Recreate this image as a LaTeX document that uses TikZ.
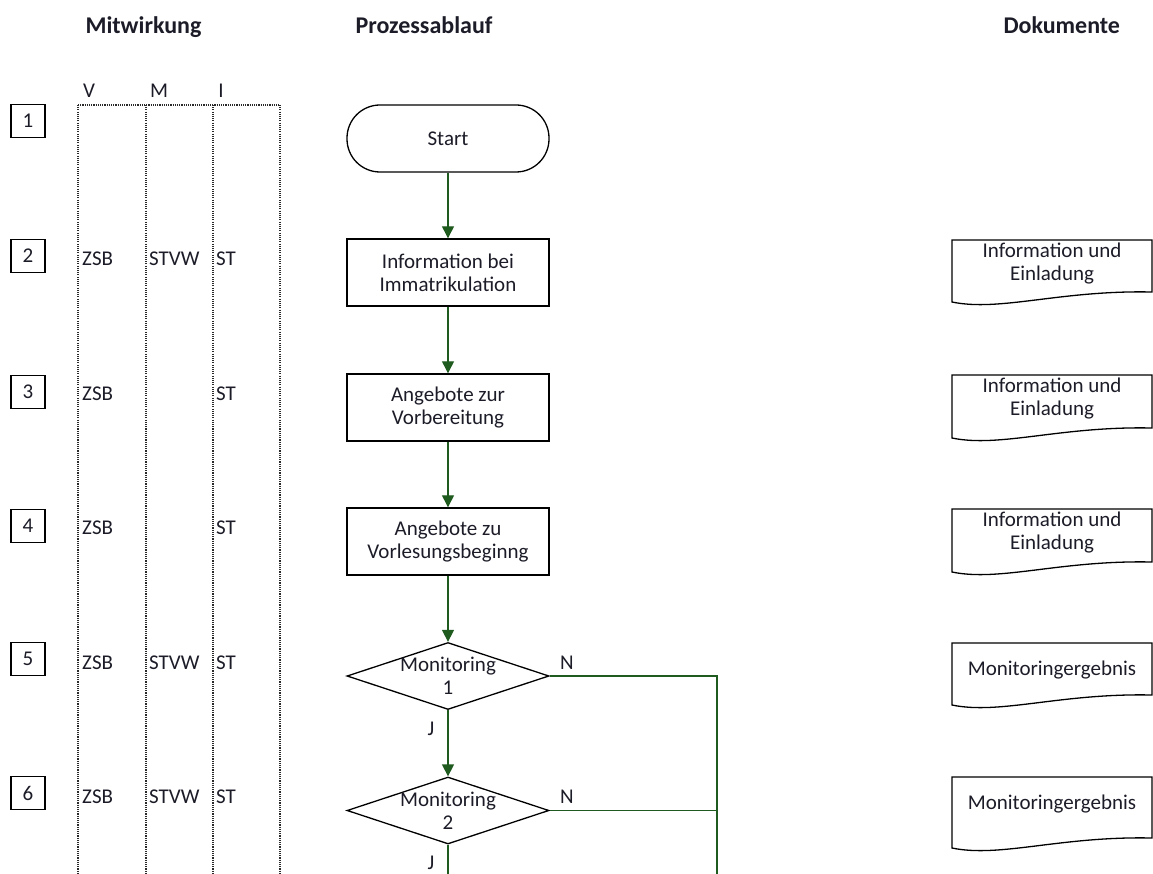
\documentclass[tikz,border=0pt]{standalone}
\usepackage{fontspec}
\setmainfont{Carlito}
\usetikzlibrary{arrows.meta,shapes.geometric}
\definecolor{flowgreen}{HTML}{1F5A1F}
\definecolor{inkdark}{HTML}{1C1C28}
\definecolor{dotgray}{HTML}{2A2A2A}

% document symbol: name, top edge, height, text offset, text
\newcommand{\docsymbol}[5]{%
  \draw[docline] (952,#2) -- (1152,#2) -- ({1152},{#2+#3-10})
    .. controls ({1060},{#2+#3-12}) and ({1000},{#2+#3+10}) .. ({952},{#2+#3}) -- cycle;
  \node[doctext] (#1) at ({1052},{#2+#4}) {#5};
}

\begin{document}
\begin{tikzpicture}[x=1pt,y=-1pt,
  every node/.style={font=\fontsize{21}{23}\selectfont, text=inkdark},
  head/.style={font=\fontsize{24}{28}\selectfont\bfseries, anchor=base west},
  collabel/.style={anchor=base},
  role/.style={anchor=west, inner sep=0},
  numbox/.style={draw=black, line width=1.5pt, minimum width=34, minimum height=33, inner sep=0},
  terminal/.style={draw=black, line width=1.3pt, minimum width=202, minimum height=67,
    rounded corners=33pt, inner sep=0},
  process/.style={draw=black, line width=1.4pt, minimum width=202, minimum height=67,
    inner sep=0, align=center},
  decision/.style={draw=black, line width=1.3pt, shape=diamond, minimum width=202,
    minimum height=67, inner sep=0},
  dectext/.style={align=center, inner sep=0},
  docline/.style={draw=black, line width=1.3pt},
  doctext/.style={align=center, inner sep=0},
  flow/.style={draw=flowgreen, line width=1.3pt, -{Triangle[length=12pt,width=12pt]}},
  branch/.style={draw=flowgreen, line width=1.3pt},
  branchlabel/.style={inner sep=0},
  grid/.style={draw=dotgray, line width=1.3pt, dash pattern=on 1.1pt off 1.1pt}
]
\useasboundingbox (0,0) rectangle (1153,874);

% column headings
\node[head] (hMit) at (82,34) {Mitwirkung};
\node[head] (hPro) at (352,34) {Prozessablauf};
\node[head] (hDok) at (1000,34) {Dokumente};

% participation table
\node[collabel] (cV) at (89,98) {V};
\node[collabel] (cM) at (159,98) {M};
\node[collabel] (cI) at (221,98) {I};
\draw[grid] (78,105) -- (280,105);
\foreach \gx in {78,146,213,280}{
  \draw[grid] (\gx,105) -- (\gx,874);
}

% step numbers
\node[numbox] (n1) at (28,121) {1};
\node[numbox] (n2) at (28,256) {2};
\node[numbox] (n3) at (28,392) {3};
\node[numbox] (n4) at (28,526) {4};
\node[numbox] (n5) at (28,659) {5};
\node[numbox] (n6) at (28,793) {6};

% roles per step
\node[role] (v2) at (82,259) {ZSB};
\node[role] (m2) at (149,259) {STVW};
\node[role] (i2) at (216,259) {ST};
\node[role] (v3) at (82,394) {ZSB};
\node[role] (i3) at (216,394) {ST};
\node[role] (v4) at (82,528) {ZSB};
\node[role] (i4) at (216,528) {ST};
\node[role] (v5) at (82,663) {ZSB};
\node[role] (m5) at (149,663) {STVW};
\node[role] (i5) at (216,663) {ST};
\node[role] (v6) at (82,797) {ZSB};
\node[role] (m6) at (149,797) {STVW};
\node[role] (i6) at (216,797) {ST};

% process flow
\node[terminal] (start) at (448,138.5) {Start};
\node[process] (p2) at (448,272.5) {Information bei\\Immatrikulation};
\node[process] (p3) at (448,407.5) {Angebote zur\\Vorbereitung};
\node[process] (p4) at (448,541.5) {Angebote zu\\Vorlesungsbeginng};
\node[decision] (d1) at (448,676) {};
\node[dectext] (t1) at (d1) {Monitoring\\1};
\node[decision] (d2) at (448,810.5) {};
\node[dectext] (t2) at (d2) {Monitoring\\2};

\coordinate (nbus) at (717,874);
\coordinate (jend) at (448,874);

\draw[flow] (start) -- (p2);
\draw[flow] (p2) -- (p3);
\draw[flow] (p3) -- (p4);
\draw[flow] (p4) -- (d1.north);
\draw[flow] (d1.south) -- (d2.north);
\draw[branch] (d2.south) -- (jend);
\draw[branch] (d1.east) -| (nbus);
\draw[branch] (d2.east) -- (d2.east -| nbus);

\node[branchlabel] (N1) at (567,663) {N};
\node[branchlabel] (N2) at (567,797) {N};
\node[branchlabel] (J1) at (431,729) {J};
\node[branchlabel] (J2) at (431,863) {J};

% documents
\docsymbol{doc2}{240}{62}{24}{Information und\\Einladung}
\docsymbol{doc3}{375}{63}{24}{Information und\\Einladung}
\docsymbol{doc4}{509}{63}{24}{Information und\\Einladung}
\docsymbol{doc5}{643}{62}{27}{Monitoringergebnis}
\docsymbol{doc6}{777}{71}{27}{Monitoringergebnis}
\end{tikzpicture}
\end{document}
